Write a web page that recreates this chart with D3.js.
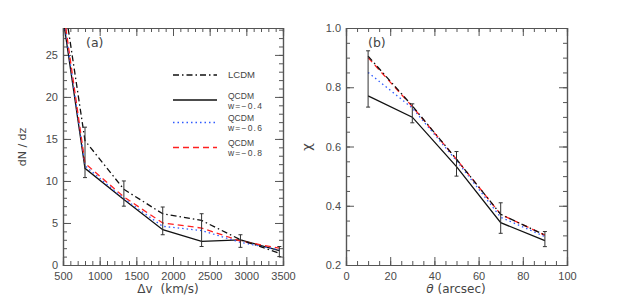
<!DOCTYPE html>
<html>
<head>
<meta charset="utf-8">
<script src="https://cdn.jsdelivr.net/npm/d3@7"></script>
<style>
  body { margin: 0; background: #fff; }
  svg { font-family: "DejaVu Sans", sans-serif; }
  .tick text { fill: #4a4a4a; font-size: 11px; }
  .domain, .tick line { stroke: #555; }
</style>
</head>
<body>
<svg id="chart" width="629" height="295"></svg>
<script>
/* panel (a): dN/dz against velocity bin */
const dvBins = [270, 800, 1330, 1860, 2390, 2920, 3450];
const dnLCDM = [45.6, 14.8, 9.0, 6.1, 5.3, 3.0, 1.4];
const dnQ04 = [43.2, 11.5, 7.8, 4.2, 2.8, 3.0, 1.7];
const dnQ06 = [44.0, 11.8, 7.9, 4.6, 4.1, 2.7, 1.8];
const dnQ08 = [44.7, 12.1, 8.1, 5.0, 4.4, 2.85, 2.0];
const dnErrLo = [null, 10.4, 7.0, 3.6, 2.2, 2.1, 1.0];
const dnErrHi = [null, 16.4, 10.0, 6.9, 6.1, 3.6, 2.2];

/* panel (b): chi against angle */
const thetaBins = [10, 30, 50, 70, 90];
const chiLCDM = [0.905, 0.737, 0.557, 0.371, 0.301];
const chiQ04 = [0.771, 0.699, 0.532, 0.343, 0.282];
const chiQ06 = [0.85, 0.73, 0.552, 0.361, 0.296];
const chiQ08 = [0.90, 0.735, 0.557, 0.371, 0.301];
const chiErrLo = [0.733, 0.68, 0.50, 0.307, 0.262];
const chiErrHi = [0.923, 0.744, 0.583, 0.41, 0.313];

const dvTicks = [500, 1000, 1500, 2000, 2500, 3000, 3500];
const dnTicks = [0, 5, 10, 15, 20, 25];
const thetaTicks = [0, 20, 40, 60, 80, 100];
const chiTicks = [0.2, 0.4, 0.6, 0.8, 1.0];

const seriesNames = ["LCDM", "QCDM", "QCDM", "QCDM"];
const seriesSub = [null, "w=\u22120.4", "w=\u22120.6", "w=\u22120.8"];

/* line styles for LCDM, w=-0.4, w=-0.6, w=-0.8 */
const styles = [
  { color: "#111", dash: "6,3,1.5,3" },
  { color: "#111", dash: null },
  { color: "#2f5bff", dash: "1.5,3" },
  { color: "#ff2020", dash: "6,4" }
];

const svg = d3.select("#chart");

function drawPanel(opt) {
  const { left, right, top, bottom } = opt.box;
  const x = d3.scaleLinear().domain(opt.xDomain).range([left, right]);
  const y = d3.scaleLinear().domain(opt.yDomain).range([bottom, top]);

  /* clip so the first bin runs off the top */
  svg.append("clipPath").attr("id", opt.id + "-clip")
    .append("rect")
    .attr("x", left).attr("y", top)
    .attr("width", right - left).attr("height", bottom - top);

  const g = svg.append("g");

  /*minor ticks first, then the major ones with labels*/
  const minorX = d3.range(opt.xDomain[0], opt.xDomain[1] + 1e-9, opt.xMinor);
  const minorY = d3.range(opt.yTicks[0], opt.yDomain[1] + 1e-9, opt.yMinor);

  g.append("g").attr("transform", `translate(0,${bottom})`)
    .call(d3.axisBottom(x).tickValues(minorX).tickSize(-4).tickFormat(""));
  g.append("g").attr("transform", `translate(0,${top})`)
    .call(d3.axisTop(x).tickValues(minorX).tickSize(-4).tickFormat(""));
  g.append("g").attr("transform", `translate(${left},0)`)
    .call(d3.axisLeft(y).tickValues(minorY).tickSize(-4).tickFormat(""));
  g.append("g").attr("transform", `translate(${right},0)`)
    .call(d3.axisRight(y).tickValues(minorY).tickSize(-4).tickFormat(""));

  g.append("g").attr("transform", `translate(0,${bottom})`)
    .call(d3.axisBottom(x).tickValues(opt.xTicks).tickSize(-8).tickPadding(7).tickFormat(opt.xFmt));
  g.append("g").attr("transform", `translate(0,${top})`)
    .call(d3.axisTop(x).tickValues(opt.xTicks).tickSize(-8).tickFormat(""));
  g.append("g").attr("transform", `translate(${left},0)`)
    .call(d3.axisLeft(y).tickValues(opt.yTicks).tickSize(-8).tickPadding(5).tickFormat(opt.yFmt));
  g.append("g").attr("transform", `translate(${right},0)`)
    .call(d3.axisRight(y).tickValues(opt.yTicks).tickSize(-8).tickFormat(""));

  g.selectAll(".domain").attr("stroke-width", 1.2);

  const plot = svg.append("g").attr("clip-path", `url(#${opt.id}-clip)`);
  const line = d3.line().x(d => x(d[0])).y(d => y(d[1]));

  /*draw LCDM last so it sits on top where it overlaps*/
  [1, 2, 3, 0].forEach(i => {
    const pts = opt.xs.map((v, j) => [v, opt.series[i][j]]);
    plot.append("path")
      .attr("d", line(pts))
      .attr("fill", "none")
      .attr("stroke", styles[i].color)
      .attr("stroke-width", 1.3)
      .attr("stroke-dasharray", styles[i].dash);
  });

  /*error bars with small caps*/
  opt.xs.forEach((v, j) => {
    if (opt.errLo[j] == null) return;
    const cx = x(v);
    plot.append("line")
      .attr("x1", cx).attr("x2", cx)
      .attr("y1", y(opt.errLo[j])).attr("y2", y(opt.errHi[j]))
      .attr("stroke", "#333").attr("stroke-width", 1);
    [opt.errLo[j], opt.errHi[j]].forEach(e => {
      plot.append("line")
        .attr("x1", cx - 2).attr("x2", cx + 2)
        .attr("y1", y(e)).attr("y2", y(e))
        .attr("stroke", "#333").attr("stroke-width", 1);
    });
  });

  return { x, y };
}

drawPanel({
  id: "a",
  box: { left: 63, right: 283, top: 28, bottom: 265 },
  xDomain: [500, 3500], yDomain: [0, 28.2],
  xTicks: dvTicks, yTicks: dnTicks, xMinor: 100, yMinor: 1,
  xFmt: d3.format("d"), yFmt: d3.format("d"),
  xs: dvBins, series: [dnLCDM, dnQ04, dnQ06, dnQ08],
  errLo: dnErrLo, errHi: dnErrHi
});

drawPanel({
  id: "b",
  box: { left: 346, right: 567, top: 28, bottom: 265 },
  xDomain: [0, 100], yDomain: [0.2, 1.0],
  xTicks: thetaTicks, yTicks: chiTicks, xMinor: 5, yMinor: 0.05,
  xFmt: d3.format("d"), yFmt: d3.format(".1f"),
  xs: thetaBins, series: [chiLCDM, chiQ04, chiQ06, chiQ08],
  errLo: chiErrLo, errHi: chiErrHi
});

/*axis titles and panel tags*/
const txt = (x, y, s, size) => svg.append("text")
  .attr("x", x).attr("y", y).attr("fill", "#444")
  .attr("font-size", size).text(s);

txt(168, 293, "", 12).attr("text-anchor", "middle")
  .call(t => {
    t.append("tspan").text("\u0394v");
    t.append("tspan").attr("dx", 8).text("(km/s)");
  });
txt(456, 293, "", 12).attr("text-anchor", "middle")
  .call(t => {
    t.append("tspan").attr("font-style", "italic").text("\u03b8");
    t.append("tspan").attr("dx", 4).text("(arcsec)");
  });

svg.append("text").attr("transform", "translate(26,147) rotate(-90)")
  .attr("text-anchor", "middle").attr("fill", "#444").attr("font-size", 11)
  .text("dN / dz");
svg.append("text").attr("transform", "translate(311,147) rotate(-90)")
  .attr("text-anchor", "middle").attr("fill", "#444").attr("font-size", 13)
  .text("\u03c7");

txt(86, 47, "(a)", 12.5);
txt(368, 47, "(b)", 12.5);

/*legend: the QCDM name and its w value share one text node, stacked*/
const legendY = [75, 100, 122.5, 147.5];
const legend = svg.append("g")
  .attr("font-family", "'Liberation Sans Narrow', 'Liberation Sans', sans-serif");
seriesNames.forEach((name, i) => {
  legend.append("line")
    .attr("x1", 173).attr("x2", 217)
    .attr("y1", legendY[i]).attr("y2", legendY[i])
    .attr("stroke", styles[i].color)
    .attr("stroke-width", 1.5)
    .attr("stroke-dasharray", styles[i].dash);
  if (seriesSub[i] == null) {
    legend.append("text").attr("x", 228).attr("y", legendY[i] + 3)
      .attr("fill", "#444").attr("font-size", 9.5).text(name);
  } else {
    const t = legend.append("text").attr("x", 228).attr("y", legendY[i] - 1.5)
      .attr("fill", "#444").attr("font-size", 8.5);
    t.append("tspan").text(name);
    t.append("tspan").attr("x", 228).attr("dy", 10)
      .attr("letter-spacing", 1.2)
      .text(seriesSub[i]);
  }
});
</script>
</body>
</html>
